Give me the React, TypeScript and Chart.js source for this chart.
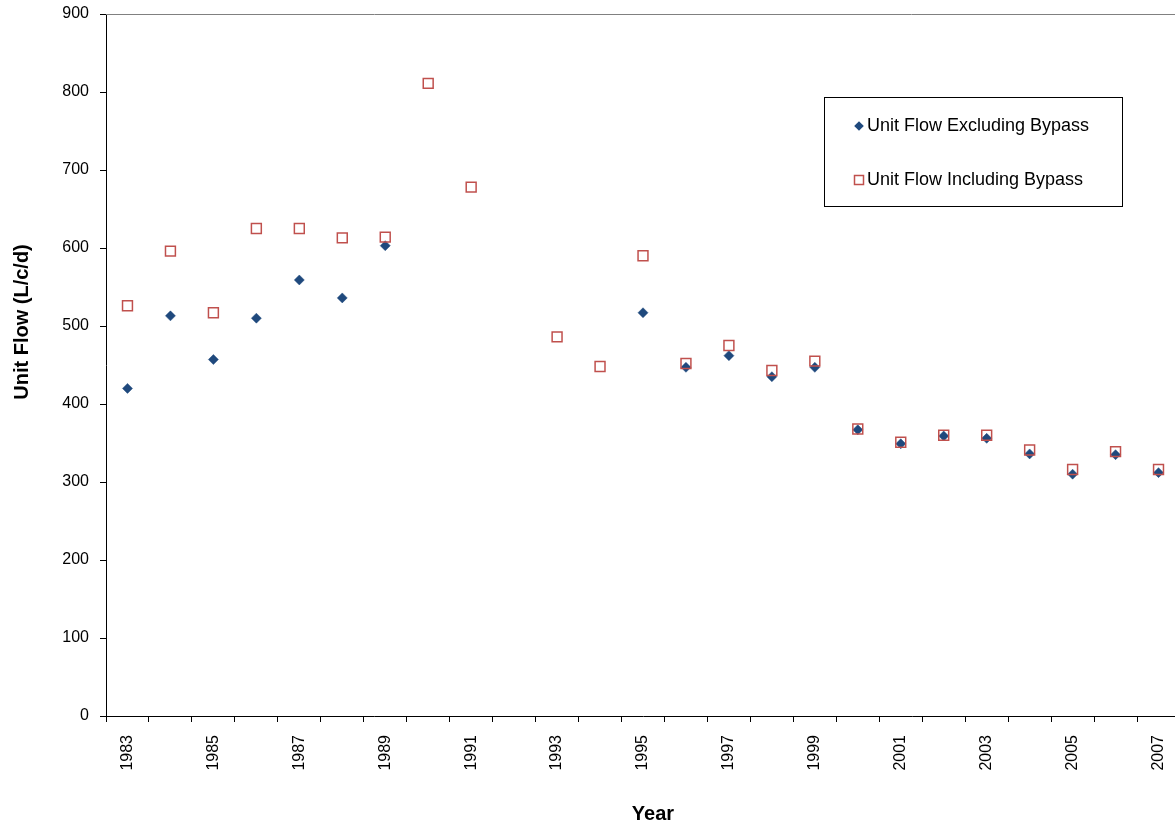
import React, { useEffect, useRef } from 'react';
import { Chart, registerables } from 'chart.js';

Chart.register(...registerables);

const years = [
  '1983', '1984', '1985', '1986', '1987', '1988', '1989', '1990', '1991', '1992',
  '1993', '1994', '1995', '1996', '1997', '1998', '1999', '2000', '2001', '2002',
  '2003', '2004', '2005', '2006', '2007',
];

const excludingBypass = [
  420, 513, 457, 510, 559, 536, 603, null, null, null,
  null, null, 517, 447, 462, 435, 447, 367, 349, 359,
  356, 336, 310, 335, 312,
];

const includingBypass = [
  526, 596, 517, 625, 625, 613, 614, 811, 678, null,
  486, 448, 590, 452, 475, 443, 455, 368, 351, 360,
  360, 341, 316, 339, 316,
];

const yMin = 0;
const yMax = 900;
const yStep = 100;

const seriesLabels = ['Unit Flow Excluding Bypass', 'Unit Flow Including Bypass'];
const yTitle = 'Unit Flow (L/c/d)';
const xTitle = 'Year';

const FONT = "'Liberation Sans', Arial, Helvetica, sans-serif";
const BLUE = '#1f497d';
const RED = '#c0504d';

const decorPlugin = {
  id: 'decor',
  beforeDatasetsDraw(chart: any) {
    const { ctx, chartArea } = chart;
    ctx.save();
    ctx.strokeStyle = '#808080';
    ctx.lineWidth = 1;
    ctx.beginPath();
    ctx.moveTo(chartArea.left, chartArea.top + 0.5);
    ctx.lineTo(chartArea.right, chartArea.top + 0.5);
    ctx.lineTo(chartArea.right + 0.5, chartArea.bottom);
    ctx.stroke();
    ctx.restore();
  },
  afterDraw(chart: any) {
    const { ctx } = chart;
    ctx.save();
    // axis titles
    ctx.fillStyle = '#000';
    ctx.font = `bold 20px ${FONT}`;
    ctx.textAlign = 'center';
    ctx.textBaseline = 'middle';
    ctx.save();
    ctx.translate(22, 322);
    ctx.rotate(-Math.PI / 2);
    ctx.fillText(yTitle, 0, 0);
    ctx.restore();
    ctx.fillText(xTitle, 653, 814);

    // legend box
    ctx.strokeStyle = '#000';
    ctx.lineWidth = 1;
    ctx.strokeRect(824.5, 97.5, 298, 109);
    const ds = chart.data.datasets;
    ctx.font = `18px ${FONT}`;
    ctx.textAlign = 'left';
    ctx.textBaseline = 'middle';
    // item 1: diamond
    const y1 = 126;
    ctx.fillStyle = ds[0].pointBackgroundColor;
    ctx.beginPath();
    ctx.moveTo(859, y1 - 4.8);
    ctx.lineTo(863.8, y1);
    ctx.lineTo(859, y1 + 4.8);
    ctx.lineTo(854.2, y1);
    ctx.closePath();
    ctx.fill();
    ctx.fillStyle = '#000';
    ctx.fillText(ds[0].label, 867, y1);
    // item 2: square
    const y2 = 180;
    ctx.strokeStyle = ds[1].pointBorderColor;
    ctx.lineWidth = 1.5;
    ctx.strokeRect(854.5, y2 - 4.5, 9, 9);
    ctx.fillStyle = '#000';
    ctx.fillText(ds[1].label, 867, y2);
    ctx.restore();
  },
};

export default function App() {
  const ref = useRef<HTMLCanvasElement | null>(null);

  useEffect(() => {
    if (!ref.current) return;
    const chart = new Chart(ref.current, {
      type: 'line',
      data: {
        labels: years,
        datasets: [
          {
            label: seriesLabels[0],
            data: excludingBypass,
            showLine: false,
            pointStyle: 'rectRot',
            pointRadius: 5,
            pointHoverRadius: 5,
            pointBackgroundColor: BLUE,
            pointBorderColor: BLUE,
            pointBorderWidth: 0.5,
            borderColor: BLUE,
            backgroundColor: BLUE,
            order: 1,
          },
          {
            label: seriesLabels[1],
            data: includingBypass,
            showLine: false,
            pointStyle: 'rect',
            pointRadius: 7,
            pointHoverRadius: 7,
            pointBackgroundColor: 'rgba(0,0,0,0)',
            pointBorderColor: RED,
            pointBorderWidth: 1.5,
            borderColor: RED,
            backgroundColor: 'rgba(0,0,0,0)',
            order: 0,
          },
        ],
      },
      options: {
        responsive: false,
        animation: false,
        devicePixelRatio: 1,
        layout: { padding: { left: 0, top: 14, right: 10, bottom: 0 } },
        plugins: {
          legend: { display: false },
          tooltip: { enabled: false },
        },
        scales: {
          x: {
            type: 'category',
            offset: true,
            grid: {
              offset: true,
              drawOnChartArea: false,
              color: '#000',
              tickLength: 6,
              tickWidth: 1,
            },
            border: { color: '#000', width: 1 },
            ticks: {
              autoSkip: false,
              maxRotation: 90,
              minRotation: 90,
              padding: 13,
              color: '#000',
              font: { family: FONT, size: 16 },
              callback: (_v: any, i: number) => (i % 2 === 0 ? years[i] : ''),
            },
            afterFit: (s: any) => {
              s.height = 113;
              s.paddingLeft = 0;
              s.paddingRight = 0;
            },
          },
          y: {
            min: yMin,
            max: yMax,
            grid: {
              drawOnChartArea: false,
              color: '#000',
              tickLength: 6,
              tickWidth: 1,
            },
            border: { color: '#000', width: 1 },
            ticks: {
              stepSize: yStep,
              padding: 11,
              color: '#000',
              font: { family: FONT, size: 16 },
            },
            afterFit: (s: any) => {
              s.width = 106;
              s.paddingTop = 0;
              s.paddingBottom = 0;
            },
          },
        },
      },
      plugins: [decorPlugin],
    } as any);
    return () => chart.destroy();
  }, []);

  return (
    <div
      style={{
        position: 'fixed',
        left: 0,
        top: 0,
        width: 1175,
        height: 829,
        overflow: 'hidden',
        background: '#fff',
      }}
    >
      <canvas ref={ref} width={1190} height={829} style={{ display: 'block', width: 1190, height: 829 }} />
    </div>
  );
}
